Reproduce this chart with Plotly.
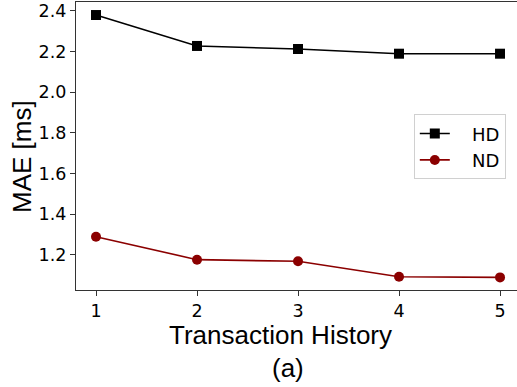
import plotly.graph_objects as go

# Transaction history length vs. mean absolute error
history = [1, 2, 3, 4, 5]
hd_mae = [2.379, 2.227, 2.212, 2.189, 2.189]
nd_mae = [1.290, 1.177, 1.169, 1.093, 1.090]
y_ticks = [1.2, 1.4, 1.6, 1.8, 2.0, 2.2, 2.4]
series_names = ["HD", "ND"]

W, H = 517, 387
L, R, T, B = 76, 0, 2, 97
PAD = "\u00a0\u00a0\u00a0"  # extra gap between legend sample and its label

fig = go.Figure()
fig.add_trace(go.Scatter(
    x=history, y=hd_mae, name=PAD + series_names[0], mode="lines+markers",
    line=dict(color="black", width=1.6),
    marker=dict(symbol="square", size=10, color="black"),
))
fig.add_trace(go.Scatter(
    x=history, y=nd_mae, name=PAD + series_names[1], mode="lines+markers",
    line=dict(color="#8b0000", width=1.6),
    marker=dict(symbol="circle", size=10, color="#8b0000"),
))

tick_font = dict(family="DejaVu Sans", size=17.5, color="black")
label_font = dict(family="Liberation Sans, Arial", size=26, color="black")

fig.update_layout(
    width=W, height=H,
    margin=dict(l=L, r=R, t=T, b=B, pad=0),
    paper_bgcolor="white", plot_bgcolor="white",
    showlegend=True,
    legend=dict(
        x=0.766, y=0.61, xanchor="left", yanchor="top",
        font=dict(family="DejaVu Sans", size=18, color="black"),
        bgcolor="white", bordercolor="#d0d0d0", borderwidth=1,
        tracegroupgap=0,
    ),
    xaxis=dict(
        range=[0.802, 5.168], tickvals=history,
        ticktext=[str(v) for v in history],
        showgrid=False, zeroline=False,
        showline=True, linecolor="#333333", linewidth=1.2, mirror=True,
        ticks="outside", ticklen=5, tickwidth=1.2, tickcolor="#333333",
        tickfont=tick_font,
    ),
    yaxis=dict(
        range=[1.028, 2.443], tickvals=y_ticks,
        ticktext=[f"{v:.1f}" for v in y_ticks],
        showgrid=False, zeroline=False,
        showline=True, linecolor="#333333", linewidth=1.2, mirror=False,
        ticks="outside", ticklen=5, tickwidth=1.2, tickcolor="#333333",
        tickfont=tick_font,
    ),
)

# Axis titles
fig.add_annotation(
    text="MAE [ms]", xref="paper", yref="paper",
    x=(22 - L) / (W - L - R), y=(H - B - 157) / (H - T - B),
    textangle=-90, showarrow=False, font=label_font,
    xanchor="center", yanchor="middle",
)
fig.add_annotation(
    text="Transaction History", xref="paper", yref="paper",
    x=(280 - L) / (W - L - R), y=-(335 - (H - B)) / (H - T - B),
    showarrow=False, font=label_font, xanchor="center", yanchor="middle",
)
fig.add_annotation(
    text="(a)", xref="paper", yref="paper",
    x=(288 - L) / (W - L - R), y=-(368 - (H - B)) / (H - T - B),
    showarrow=False, font=label_font, xanchor="center", yanchor="middle",
)

fig.write_html("out.html")
